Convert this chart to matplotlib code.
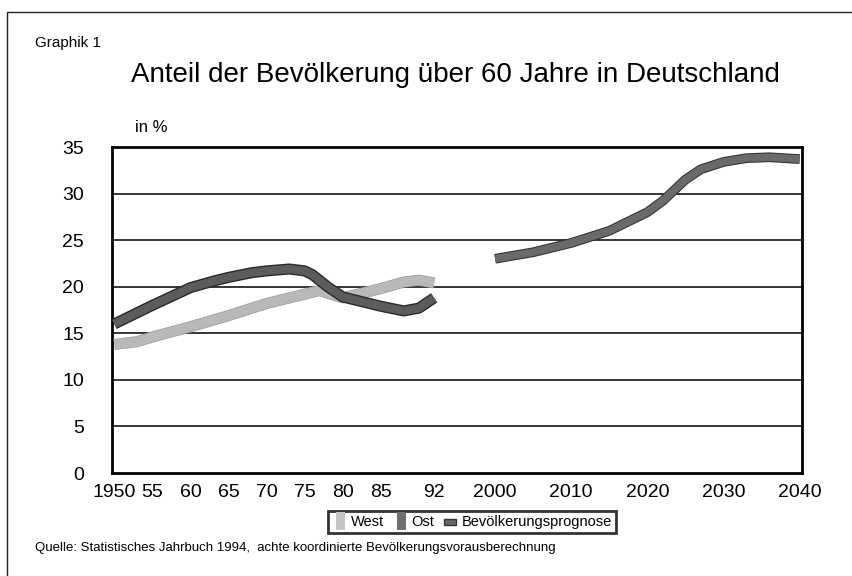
import matplotlib.pyplot as plt
import matplotlib.patheffects as pe
from matplotlib.patches import Rectangle, Patch
from matplotlib.legend_handler import HandlerPatch

# Anteil der Bevoelkerung ueber 60 Jahre (in %)
west_years = [1950, 1953, 1955, 1960, 1965, 1970, 1975, 1977, 1978, 1980, 1982, 1985, 1988, 1990, 1992]
west_vals = [13.8, 14.1, 14.6, 15.7, 16.9, 18.2, 19.2, 19.6, 19.3, 18.8, 19.2, 19.8, 20.5, 20.7, 20.4]

ost_years = [1950, 1955, 1960, 1963, 1965, 1968, 1970, 1973, 1975, 1976, 1978, 1980, 1982, 1985, 1988, 1990, 1992]
ost_vals = [16.0, 18.0, 19.9, 20.6, 21.0, 21.5, 21.7, 21.9, 21.7, 21.3, 20.0, 18.9, 18.5, 17.9, 17.4, 17.7, 18.8]

prog_years = [2000, 2005, 2010, 2015, 2020, 2022, 2025, 2027, 2030, 2033, 2036, 2040]
prog_vals = [23.0, 23.7, 24.7, 26.0, 28.0, 29.2, 31.5, 32.6, 33.4, 33.8, 33.9, 33.7]

tick_years = [1950, 1955, 1960, 1965, 1970, 1975, 1980, 1985, 1992, 2000, 2010, 2020, 2030, 2040]
tick_labels = ['1950', '55', '60', '65', '70', '75', '80', '85', '92', '2000', '2010', '2020', '2030', '2040']

plt.rcParams['font.family'] = ['Liberation Sans', 'DejaVu Sans']

fig = plt.figure(figsize=(8.52, 5.76), dpi=100)
fig.patch.set_facecolor('white')

# outer frame (cut off at right and bottom)
fig.add_artist(Rectangle((7 / 852, -0.1), 1.2, 1 - 12 / 576 + 0.1, transform=fig.transFigure,
                         fill=False, edgecolor='#222222', lw=1.0))

ax = fig.add_axes([112 / 852, 1 - 473 / 576, 690 / 852, 326 / 576])
ax.set_xlim(1949.7, 2040.3)
ax.set_ylim(0, 35)
ax.set_yticks(range(0, 36, 5))
ax.set_xticks(tick_years)
ax.set_xticklabels(tick_labels)
ax.tick_params(length=0, labelsize=14, pad=8)
ax.tick_params(axis='y', pad=20)
for s in ax.spines.values():
    s.set_linewidth(2)
    s.set_color('black')
for y in range(5, 35, 5):
    ax.axhline(y, color='black', lw=1.1, zorder=1)

ax.plot(west_years, west_vals, color='#b9b9b9', lw=7, solid_capstyle='butt',
        solid_joinstyle='round', zorder=3,
        path_effects=[pe.Stroke(linewidth=8, foreground='#9a9a9a'), pe.Normal()])
ax.plot(ost_years, ost_vals, color='#5c5c5c', lw=6, solid_capstyle='butt',
        solid_joinstyle='round', zorder=4,
        path_effects=[pe.Stroke(linewidth=8, foreground='#2a2a2a'), pe.Normal()])
ax.plot(prog_years, prog_vals, color='#6a6a6a', lw=5.5, solid_capstyle='butt',
        solid_joinstyle='round', zorder=4,
        path_effects=[pe.Stroke(linewidth=7, foreground='#333333'), pe.Normal()])

fig.text(35 / 852, 1 - 43 / 576, 'Graphik 1', fontsize=11, va='center', ha='left')
fig.text(455 / 852, 1 - 75 / 576, 'Anteil der Bevölkerung über 60 Jahre in Deutschland',
         fontsize=20, va='center', ha='center')
fig.text(135 / 852, 1 - 128 / 576, 'in %', fontsize=12, va='center', ha='left')
fig.text(35 / 852, 1 - 548 / 576,
         'Quelle: Statistisches Jahrbuch 1994,  achte koordinierte Bevölkerungsvorausberechnung',
         fontsize=9.5, va='center', ha='left')


def tall_patch(legend, orig_handle, xdescent, ydescent, width, height, fontsize):
    return Rectangle((width - 6 - xdescent, -ydescent - 3), 6, height + 6)


def small_patch(legend, orig_handle, xdescent, ydescent, width, height, fontsize):
    return Rectangle((width - 9 - xdescent, -ydescent + 1), 9, height - 3)


h_west = Patch(facecolor='#c4c4c4', edgecolor='none')
h_ost = Patch(facecolor='#6f6f6f', edgecolor='none')
h_prog = Patch(facecolor='#666666', edgecolor='#333333')
leg = fig.legend([h_west, h_ost, h_prog], ['West', 'Ost', 'Bevölkerungsprognose'],
                 loc='center', bbox_to_anchor=(472 / 852, 1 - 522 / 576), ncol=3,
                 fontsize=10.5, frameon=True, fancybox=False, handlelength=0.9,
                 handletextpad=0.4, columnspacing=0.6, borderpad=0.25,
                 handler_map={h_west: HandlerPatch(patch_func=tall_patch),
                              h_ost: HandlerPatch(patch_func=tall_patch),
                              h_prog: HandlerPatch(patch_func=small_patch)})
leg.get_frame().set_edgecolor('black')
leg.get_frame().set_linewidth(2)

fig.savefig('out.png', dpi=100)
